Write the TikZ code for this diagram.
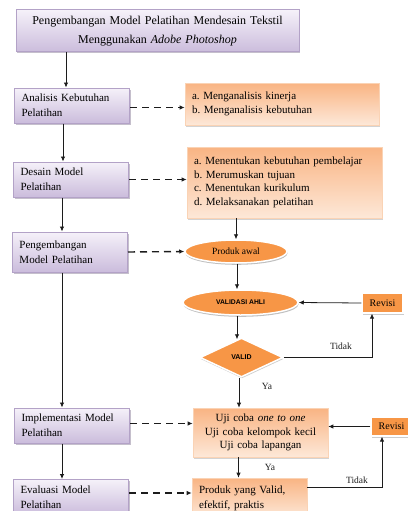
\documentclass[tikz,border=0pt]{standalone}
\usepackage{fontspec}
\setmainfont{Liberation Serif}
\newfontfamily\capfont{Liberation Sans}
\usepackage{tikz}
\usetikzlibrary{arrows.meta,positioning,calc,shapes.geometric,shadows}
\definecolor{FlowLine}{HTML}{B3A2C7}
\definecolor{FlowLilacTop}{HTML}{F5F1F9}
\definecolor{FlowLilacBot}{HTML}{CBBCDC}
\definecolor{FlowOrange}{HTML}{F79646}
\definecolor{FlowPeachTop}{HTML}{F9B483}
\definecolor{FlowPeachBot}{HTML}{FDE8D8}
\definecolor{FlowPeachLine}{HTML}{FAD3B5}
\definecolor{FlowInk}{HTML}{1C1C1C}
\frenchspacing

\begin{document}
\begin{tikzpicture}[x=1pt,y=-1pt,>={Latex[length=5pt,width=4.5pt]},
  stagebox/.style={draw=FlowLine,line width=1pt,top color=FlowLilacTop,
    bottom color=FlowLilacBot,
    drop shadow={fill=FlowLine!60!gray,opacity=0.6,shadow xshift=1.2pt,shadow yshift=-1.5pt},
    text width=101pt,inner xsep=7pt,minimum height=35pt,align=left,
    font=\fontsize{11}{15}\selectfont},
  notebox/.style={draw=FlowPeachLine,line width=0.6pt,top color=FlowPeachTop,
    bottom color=FlowPeachBot,
    drop shadow={fill=gray,opacity=0.35,shadow xshift=1.2pt,shadow yshift=-1.5pt},
    inner xsep=7pt,align=left,font=\fontsize{11}{13.5}\selectfont},
  blob/.style={ellipse,fill=FlowOrange,draw=white,line width=1.5pt,inner sep=0pt,
    drop shadow={fill=gray,opacity=0.5,shadow xshift=0.5pt,shadow yshift=-1.8pt}},
  revbox/.style={fill=FlowOrange,draw=white,line width=1.2pt,minimum width=41pt,
    inner sep=0pt,
    drop shadow={fill=gray,opacity=0.4,shadow xshift=1pt,shadow yshift=-1.5pt},
    font=\fontsize{10}{12}\selectfont},
  flow/.style={->,FlowInk,line width=0.8pt},
  hint/.style={->,FlowInk,line width=1.4pt,dash pattern=on 7pt off 5pt},
  tag/.style={FlowInk,font=\fontsize{9.5}{11}\selectfont,inner sep=0pt}]
  \useasboundingbox (0,0) rectangle (407,511);
  % Title.
  \node[stagebox,text width=269pt,minimum height=42pt,align=center,
        font=\fontsize{12}{19}\selectfont] (title) at (157.5,31)
        {Pengembangan Model Pelatihan Mendesain Tekstil\\
         Menggunakan \textit{Adobe Photoshop}};
  % Stages on the left.
  \node[stagebox] (analisis) at (72,105.5) {Analisis Kebutuhan\\Pelatihan};
  \node[stagebox] (desain) at (71,179.5) {Desain Model\\Pelatihan};
  \node[stagebox,minimum height=40pt] (kembang) at (70,252)
        {Pengembangan\\Model Pelatihan};
  \node[stagebox] (implementasi) at (72,425.5) {Implementasi Model\\Pelatihan};
  \node[stagebox] (evaluasi) at (71,497) {Evaluasi Model\\Pelatihan};
  % Notes on the right.
  \node[notebox,text width=180pt,minimum height=42pt] (analisisnote) at (282,104)
        {a. Menganalisis kinerja\\b. Menganalisis kebutuhan};
  \node[notebox,text width=181pt,minimum height=71pt] (desainnote) at (284.5,182.5)
        {a. Menentukan kebutuhan pembelajar\\b. Merumuskan tujuan\\
         c. Menentukan kurikulum\\d. Melaksanakan pelatihan};
  \node[blob,minimum width=102pt,minimum height=23pt,
        font=\fontsize{9.5}{11}\selectfont] (awal) at (236,251.5) {Produk awal};
  \node[blob,minimum width=115pt,minimum height=25pt,
        font=\capfont\bfseries\fontsize{6.8}{8}\selectfont] (validasi) at (240.5,302.5)
        {VALIDASI AHLI};
  \node[revbox,minimum height=20pt] (revisiahli) at (382.5,303) {Revisi};
  \node[diamond,fill=FlowOrange,draw=white,line width=1.5pt,inner sep=0pt,
        minimum width=83pt,minimum height=39pt,
        drop shadow={fill=gray,opacity=0.4,shadow xshift=0.5pt,shadow yshift=-1.5pt},
        font=\capfont\bfseries\fontsize{7}{8}\selectfont] (valid) at (241.5,357.5)
        {VALID};
  \node[notebox,text width=121pt,minimum height=49pt,align=center] (ujicoba)
        at (260.5,432.5)
        {Uji coba \textit{one to one}\\Uji coba kelompok kecil\\Uji coba lapangan};
  \node[revbox,minimum height=19pt] (revisiuji) at (391.5,426.5) {Revisi};
  \node[notebox,text width=101pt,minimum height=40pt,
        font=\fontsize{11}{15}\selectfont] (produk) at (249.5,498)
        {Produk yang Valid,\\efektif, praktis};
  % Main line on the left.
  \draw[flow] ([xshift=-6pt]analisis.north |- title.south) -- ([xshift=-6pt]analisis.north);
  \draw[flow] ([xshift=-9pt]analisis.south) -- ([xshift=-9pt]analisis.south |- desain.north);
  \draw[flow] ([xshift=-9pt]desain.south) -- ([xshift=-9pt]desain.south |- kembang.north);
  \draw[flow] ([xshift=-8pt]kembang.south) -- ([xshift=-8pt]kembang.south |- implementasi.north);
  \draw[flow] ([xshift=-10pt]implementasi.south) -- ([xshift=-10pt]implementasi.south |- evaluasi.north);
  % Dashed links.
  \draw[hint] ([yshift=-2pt]analisis.east) -- ([yshift=-2pt]analisis.east -| analisisnote.west);
  \draw[hint] (desain.east) -- (desain.east -| desainnote.west);
  \draw[hint] (kembang.east) -- (awal.west);
  \draw[hint] ([yshift=2pt]implementasi.east) -- ([yshift=2pt]implementasi.east -| ujicoba.west);
  \draw[hint] ([yshift=4pt]evaluasi.east) -- ([yshift=4pt]evaluasi.east -| produk.west);
  % Development path.
  \draw[flow] (awal.north |- desainnote.south) -- (awal.north);
  \draw[flow] ([xshift=1pt]awal.south) -- ([xshift=1pt]awal.south |- validasi.north);
  \draw[flow] ([xshift=-3.5pt]validasi.south) -- ([xshift=-3.5pt,yshift=-2pt]validasi.south |- valid.north);
  \draw[flow] ([xshift=-2.5pt]valid.south) -- ([xshift=-2.5pt]valid.south |- ujicoba.north);
  \draw[flow] (valid.east) -| ([xshift=-10.5pt]revisiahli.south);
  \draw[flow] (revisiahli.west) -- (validasi.east);
  \draw[flow] ([xshift=-22pt]ujicoba.south) -- ([xshift=-22pt]ujicoba.south |- produk.north);
  \draw[flow] (revisiuji.west) -- (revisiuji.west -| ujicoba.east);
  \draw[flow] ([yshift=11pt]produk.east) -| ([xshift=-9.5pt]revisiuji.south);
  % Decisions.
  \node[tag] (tidakahli) at (341,346) {Tidak};
  \node[tag] (yaahli) at (267,386) {Ya};
  \node[tag] (yauji) at (270,467) {Ya};
  \node[tag] (tidakuji) at (357,480) {Tidak};
\end{tikzpicture}
\end{document}
